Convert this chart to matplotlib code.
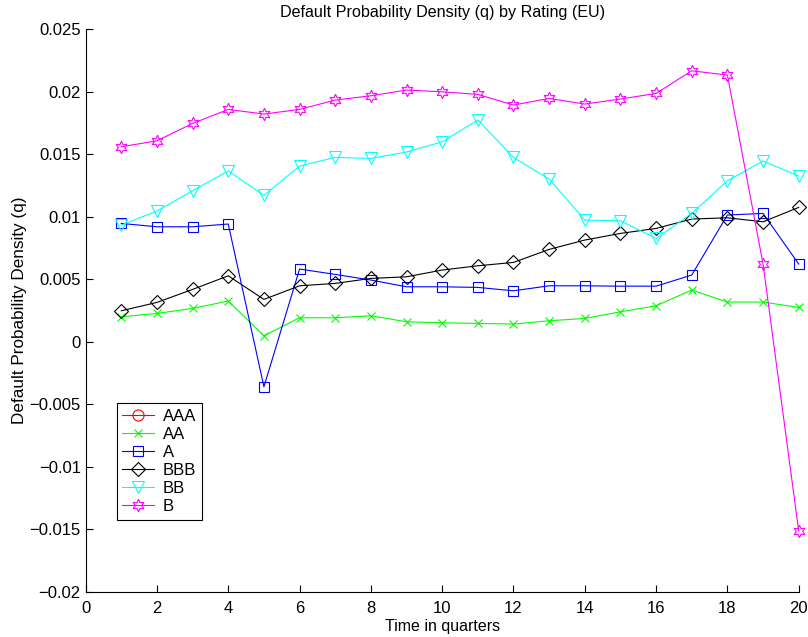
import numpy as np
import matplotlib
matplotlib.use('Agg')
import matplotlib.pyplot as plt

plt.rcParams['font.family'] = ['Liberation Sans', 'DejaVu Sans']
plt.rcParams['font.size'] = 12

# quarters 1..20
quarters = np.arange(1, 21)

# AAA has no visible values in the chart (legend entry only)
aaa = [np.nan] * 20
aa = [0.0020, 0.00227, 0.00267, 0.00326, 0.00048, 0.00192, 0.00192, 0.00208, 0.0016, 0.00152,
      0.00147, 0.00142, 0.00168, 0.00187, 0.0024, 0.00288, 0.00414, 0.00318, 0.00318, 0.00275]
a = [0.00947, 0.0092, 0.0092, 0.00942, -0.0036, 0.00582, 0.00539, 0.00494, 0.0044, 0.0044,
     0.00435, 0.00408, 0.00448, 0.00448, 0.00445, 0.00445, 0.00534, 0.01014, 0.01027, 0.00622]
bbb = [0.00248, 0.00315, 0.00419, 0.00528, 0.00339, 0.00448, 0.00467, 0.00507, 0.0052, 0.00574,
       0.00608, 0.00635, 0.00739, 0.00814, 0.00867, 0.00907, 0.00982, 0.00992, 0.0096, 0.01075]
bb = [0.00934, 0.01046, 0.01208, 0.01366, 0.01171, 0.01406, 0.01475, 0.01467, 0.01518, 0.0160,
      0.01774, 0.01475, 0.01302, 0.00974, 0.00968, 0.00827, 0.01027, 0.01288, 0.01446, 0.01326]
b = [0.0156, 0.01608, 0.01747, 0.01859, 0.01822, 0.01859, 0.01934, 0.01968, 0.02014, 0.0200,
     0.01979, 0.01894, 0.01947, 0.01902, 0.01942, 0.01987, 0.02168, 0.02134, 0.00622, -0.01514]

ratings = ['AAA', 'AA', 'A', 'BBB', 'BB', 'B']
series = [aaa, aa, a, bbb, bb, b]
colors = ['#ff0000', '#00ff00', '#0000ff', '#000000', '#00ffff', '#ff00ff']
markers = ['o', 'x', 's', 'D', 'v', (6, 1, 0)]
sizes = [8, 6, 7, 7, 9, 9]

xticks = np.arange(0, 21, 2)
yticks = [-0.02, -0.015, -0.01, -0.005, 0, 0.005, 0.01, 0.015, 0.02, 0.025]
ytick_labels = ['\u22120.02', '\u22120.015', '\u22120.01', '\u22120.005', '0',
                '0.005', '0.01', '0.015', '0.02', '0.025']

fig = plt.figure(figsize=(8.08, 6.37), dpi=100)
ax = fig.add_axes([0.106, 0.071, 0.8825, 0.883])

for vals, name, c, m, s in zip(series, ratings, colors, markers, sizes):
    ax.plot(quarters, vals, color=c, marker=m, markersize=s, markerfacecolor='none',
            markeredgecolor=c, markeredgewidth=0.8, linewidth=0.8, label=name,
            clip_on=False)

ax.set_xlim(0, 20)
ax.set_ylim(-0.02, 0.025)
ax.set_xticks(xticks)
ax.set_yticks(yticks)
ax.set_yticklabels(ytick_labels)
ax.tick_params(direction='in', length=5, width=0.8, labelsize=12)
ax.tick_params(axis='x', pad=7)
ax.tick_params(axis='y', pad=3.5)

ax.spines['top'].set_visible(False)
ax.spines['right'].set_visible(False)

ax.set_xlabel('Time in quarters', fontsize=11.5, labelpad=2)
ax.set_ylabel('Default Probability Density (q)', fontsize=12.3, labelpad=2)
ax.set_title('Default Probability Density (q) by Rating (EU)', fontsize=11.6, pad=9)

leg = ax.legend(loc='lower left', bbox_to_anchor=(0.0435, 0.1275), fancybox=False,
                framealpha=1, edgecolor='black', fontsize=12, handlelength=1.9,
                borderpad=0.35, labelspacing=0.18, handletextpad=0.5, borderaxespad=0)
leg.get_frame().set_linewidth(0.8)

plt.savefig('out.png', dpi=100)
